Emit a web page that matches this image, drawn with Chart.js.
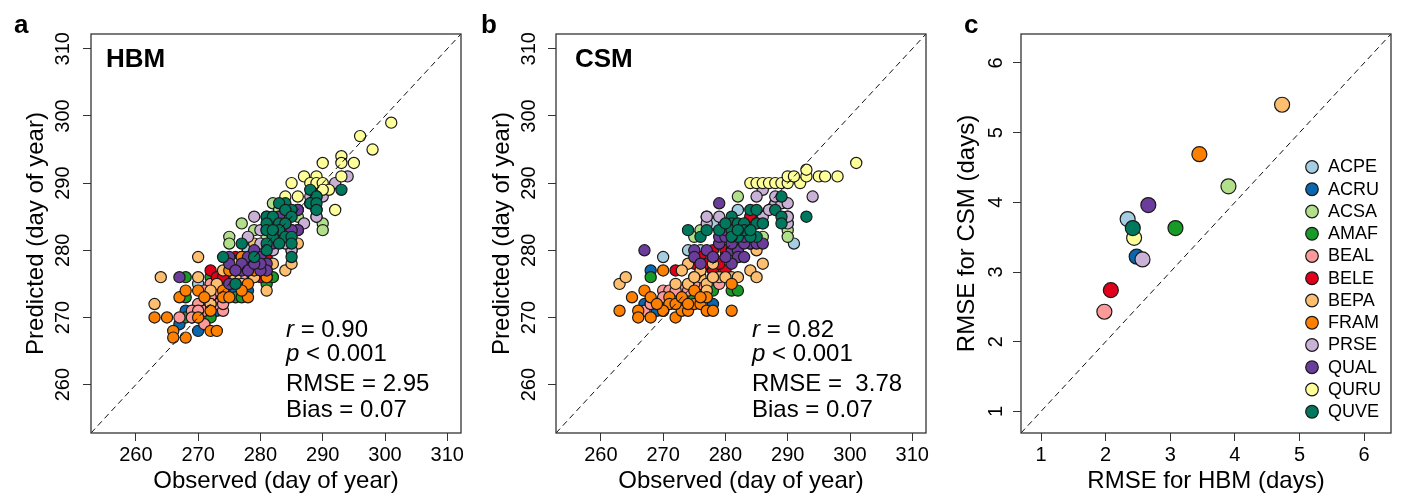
<!DOCTYPE html>
<html><head><meta charset="utf-8">
<script src="https://cdn.jsdelivr.net/npm/chart.js@4.4.1/dist/chart.umd.min.js"></script>
<style>
html,body{margin:0;padding:0;background:#fff;width:1402px;height:493px;overflow:hidden;font-family:"Liberation Sans",Arial,sans-serif;}
canvas{position:absolute;top:0;}
.t{position:absolute;white-space:pre;color:#000;line-height:1;}
.lbl{font-size:26px;font-weight:bold;}
.st{font-size:24px;}
</style></head><body>
<canvas id="ca" width="470" height="493" style="left:0px"></canvas>
<canvas id="cb" width="470" height="493" style="left:470px"></canvas>
<canvas id="cc" width="462" height="493" style="left:940px"></canvas>
<div class="t lbl" style="left:14px;top:11px">a</div>
<div class="t lbl" style="left:481px;top:11px">b</div>
<div class="t lbl" style="left:964px;top:11px">c</div>
<div class="t lbl" style="left:106px;top:45px">HBM</div>
<div class="t lbl" style="left:575px;top:45px">CSM</div>
<div class="t st" style="left:286px;top:317px"><i>r</i> = 0.90</div>
<div class="t st" style="left:286px;top:341px"><i>p</i> &lt; 0.001</div>
<div class="t st" style="left:286px;top:371px">RMSE = 2.95</div>
<div class="t st" style="left:286px;top:397px">Bias = 0.07</div>
<div class="t st" style="left:752px;top:317px"><i>r</i> = 0.82</div>
<div class="t st" style="left:752px;top:341px"><i>p</i> &lt; 0.001</div>
<div class="t st" style="left:752px;top:371px">RMSE =  3.78</div>
<div class="t st" style="left:752px;top:397px">Bias = 0.07</div>
<script>
// ---------- data ----------
const species = ['ACPE','ACRU','ACSA','AMAF','BEAL','BELE','BEPA','FRAM','PRSE','QUAL','QURU','QUVE'];
const colors  = ['#a6cee3','#0a66ad','#b2df8a','#179b26','#fb9a99','#e1001b','#fdbf6f','#ff7f00','#cab2d6','#6a3d9a','#ffff99','#00785e'];
const doyTicks = [260,270,280,290,300,310];
const rmseTicks = [1,2,3,4,5,6];

// panel a: HBM [observed, predicted]
const hbm_ACPE = [[270,275],[278,280],[276,274],[279,279],[277,276],[275,276],[280,280],[272,273]];
const hbm_ACRU = [[267,269],[268,271],[270,268],[270,270],[273,271],[278,274],[277,275],[272,272],[276,274],[269,270]];
const hbm_ACSA = [[282,287],[277,284],[275,282],[275,281],[290,284],[290,283],[283,286],[288,287],[279,283],[286,285],[281,282],[289,285]];
const hbm_AMAF = [[268,276],[268,273],[268,270],[272,270],[276,273],[281,275],[282,276],[281,276],[272,276],[277,273],[274,274],[278,278],[270,271],[279,276],[276,275]];
const hbm_BEAL = [[271,269],[270,272],[272,275],[273,272],[274,271],[269,271],[271,271],[267,270],[273,274],[276,276],[272,273],[274,272],[271,274],[275,275],[270,271],[277,276],[272,272],[269,270]];
const hbm_BELE = [[272,277],[273,276],[274,276],[276,279],[281,279],[277,278],[280,278],[278,279],[275,277],[279,277],[277,279],[276,277],[280,276]];
const hbm_BEPA = [[263,272],[264,276],[270,279],[270,276],[273,275],[272,272],[275,278],[279,276],[281,285],[281,274],[282,278],[284,277],[285,278],[286,281],[277,279],[281,276],[278,278],[276,276],[272,274],[274,277],[285,280],[279,281],[276,278],[277,275]];
const hbm_FRAM = [[263,270],[265,270],[266,268],[266,267],[268,267],[267,273],[268,274],[270,274],[271,273],[272,271],[272,268],[273,268],[274,274],[275,277],[277,279],[278,275],[278,273],[277,274],[281,277],[276,277],[281,276],[279,277],[274,273],[276,275],[270,270],[275,273],[278,277]];
const hbm_PRSE = [[294,291],[290,289],[290,288],[289,286],[289,285],[286,286],[287,284],[286,283],[279,285],[278,282],[280,281],[285,280],[284,281],[282,280],[283,285],[288,288],[285,283],[280,283],[292,290]];
const hbm_QUAL = [[267,276],[275,279],[278,279],[279,280],[280,279],[281,278],[281,277],[280,277],[277,277],[275,275],[282,281],[283,282],[286,283],[281,283],[283,283],[285,283],[283,285],[286,286],[280,278],[277,278],[278,277],[275,278],[276,277],[282,284],[284,284],[279,278],[282,282]];
const hbm_QURU = [[301,299],[296,297],[298,295],[293,294],[293,293],[295,293],[290,293],[293,291],[287,291],[289,291],[285,290],[288,290],[289,290],[290,290],[291,289],[290,289],[284,288],[286,288],[292,286],[284,286],[289,288]];
const hbm_QUVE = [[293,289],[288,289],[289,288],[288,287],[289,287],[289,286],[284,287],[285,286],[283,287],[284,286],[281,285],[282,285],[285,285],[281,284],[283,284],[284,284],[281,283],[283,283],[282,282],[284,282],[285,282],[281,281],[283,281],[285,281],[277,281],[281,280],[279,279],[285,279],[274,279],[276,275],[282,283]];

// panel b: CSM [observed, predicted]
const csm_ACPE = [[291,281],[282,286],[270,279],[274,280],[278,284],[281,283],[279,281],[276,280]];
const csm_ACRU = [[268,277],[267,272],[270,271],[278,272],[275,276],[269,271],[272,272],[276,273]];
const csm_ACSA = [[282,288],[277,285],[275,282],[290,285],[290,284],[290,283],[290,282],[286,284],[286,282],[284,285],[283,283],[276,283]];
const csm_AMAF = [[268,276],[281,274],[282,274],[280,276],[278,274],[268,272],[271,273],[275,275],[276,274],[278,276],[272,274],[275,273]];
const csm_BEAL = [[270,274],[267,271],[269,272],[270,272],[272,273],[273,274],[276,275],[277,274],[279,275],[273,273],[271,272],[268,272],[274,274],[275,275],[271,274],[272,274],[270,273]];
const csm_BELE = [[272,277],[276,279],[277,278],[278,280],[280,277],[282,281],[284,285],[276,277],[278,277],[280,280],[275,278],[279,278]];
const csm_BEPA = [[263,275],[264,276],[272,275],[274,278],[273,277],[274,275],[276,276],[277,275],[279,276],[278,278],[281,276],[282,276],[284,277],[285,276],[286,278],[285,280],[277,274],[276,277],[280,276],[275,276],[278,276]];
const csm_FRAM = [[263,271],[265,273],[266,271],[266,270],[267,274],[268,273],[268,270],[270,277],[271,273],[271,272],[272,270],[273,271],[274,271],[275,274],[275,272],[276,272],[277,271],[278,271],[277,273],[278,279],[281,275],[281,271],[272,272],[270,271],[273,273],[276,273],[269,272],[274,272]];
const csm_PRSE = [[286,289],[285,288],[288,287],[289,287],[290,287],[294,288],[286,285],[290,284],[277,284],[277,285],[279,285],[287,286],[284,281],[288,288],[283,283],[285,284],[281,282],[282,279],[290,285]];
const csm_QUAL = [[267,280],[279,287],[275,280],[275,279],[277,280],[279,281],[279,282],[280,282],[281,280],[282,280],[282,279],[281,278],[280,279],[283,279],[284,281],[285,281],[286,281],[282,283],[283,281],[280,283],[276,278],[278,279],[281,281],[283,282]];
const csm_QURU = [[284,290],[285,290],[286,290],[287,290],[288,290],[289,290],[290,290],[292,290],[290,291],[291,291],[293,291],[293,292],[295,291],[296,291],[298,291],[301,293]];
const csm_QUVE = [[274,283],[276,282],[277,283],[279,283],[281,285],[281,284],[281,283],[282,284],[283,284],[284,286],[285,286],[285,284],[285,282],[284,282],[282,282],[289,288],[288,286],[289,285],[289,284],[293,285],[281,282],[283,283],[282,283],[284,283],[280,284],[286,284]];

// panel c: RMSE per species (same order as species)
const rmseHBM = [2.34,2.48,3.90,3.08,1.98,2.08,4.73,3.45,2.57,2.66,2.44,2.42];
const rmseCSM = [3.76,3.22,4.23,3.63,2.43,2.74,5.40,4.69,3.18,3.96,3.49,3.63];

// ---------- chart ----------
Chart.defaults.font.family = '"Liberation Sans", Arial, sans-serif';
Chart.defaults.color = '#000';

const hbmSets = [hbm_ACPE,hbm_ACRU,hbm_ACSA,hbm_AMAF,hbm_BEAL,hbm_BELE,hbm_BEPA,hbm_FRAM,hbm_PRSE,hbm_QUAL,hbm_QURU,hbm_QUVE];
const csmSets = [csm_ACPE,csm_ACRU,csm_ACSA,csm_AMAF,csm_BEAL,csm_BELE,csm_BEPA,csm_FRAM,csm_PRSE,csm_QUAL,csm_QURU,csm_QUVE];
const rmseSets = species.map((s,i)=>[[rmseHBM[i], rmseCSM[i]]]);

const framePlugin = {
  id:'frame',
  afterDatasetsDraw(chart){
    const {ctx, chartArea:a, scales:{x,y}} = chart;
    ctx.save();
    ctx.beginPath(); ctx.rect(a.left,a.top,a.right-a.left,a.bottom-a.top); ctx.clip();
    ctx.setLineDash([6,4]); ctx.lineWidth=1; ctx.strokeStyle='#111';
    ctx.beginPath();
    ctx.moveTo(x.getPixelForValue(x.min), y.getPixelForValue(x.min));
    ctx.lineTo(x.getPixelForValue(x.max), y.getPixelForValue(x.max));
    ctx.stroke();
    ctx.restore();
    ctx.save();
    ctx.lineWidth=1.3; ctx.strokeStyle='#333';
    ctx.strokeRect(a.left,a.top,a.right-a.left,a.bottom-a.top);
    ctx.restore();
  }
};

const legendPlugin = {
  id:'spLegend',
  afterDraw(chart){
    if(!chart.options.plugins.spLegend || !chart.options.plugins.spLegend.show) return;
    const ctx = chart.ctx;
    ctx.save();
    species.forEach((s,i)=>{
      const cy = 167 + i*22.25;
      ctx.beginPath(); ctx.arc(372, cy, 6.3, 0, Math.PI*2);
      ctx.fillStyle = colors[i]; ctx.fill();
      ctx.lineWidth = 1.2; ctx.strokeStyle = '#1a1a1a'; ctx.stroke();
      ctx.fillStyle = '#000'; ctx.font = '18px "Liberation Sans", Arial, sans-serif';
      ctx.textAlign='left'; ctx.textBaseline='middle';
      ctx.fillText(s, 388, cy+0.5);
    });
    ctx.restore();
  }
};

function makeChart(id, cfg){
  const datasets = species.map((sp,i)=>({
    label: sp,
    data: cfg.sets[i].map(p=>({x:p[0], y:p[1]})),
    backgroundColor: colors[i],
    borderColor: '#1a1a1a',
    borderWidth: 1.2,
    pointRadius: cfg.r,
    pointHoverRadius: cfg.r,
    order: 100 - i
  }));
  const gridOpt = {display:true, drawOnChartArea:false, drawTicks:true, tickLength:8, color:'#333', tickWidth:1};
  return new Chart(document.getElementById(id), {
    type:'scatter',
    data:{datasets},
    options:{
      responsive:false, animation:false, devicePixelRatio:1, events:[],
      layout:{padding:{left:0, top:34, right:cfg.padR, bottom:0}},
      plugins:{legend:{display:false}, tooltip:{enabled:false}, spLegend:{show:!!cfg.legend}},
      scales:{
        x:{
          type:'linear', min:cfg.min, max:cfg.max, bounds:'data',
          afterBuildTicks: s => { s.ticks = cfg.ticks.map(v=>({value:v})); },
          afterFit: s => { s.height = 60; },
          grid:gridOpt, border:{display:false},
          ticks:{font:{size:20}, color:'#000', padding:2, maxRotation:0, minRotation:0, autoSkip:false},
          title:{display:true, text:cfg.xTitle, font:{size:24, lineHeight:1}, color:'#000', padding:{top:0, bottom:0}}
        },
        y:{
          type:'linear', min:cfg.min, max:cfg.max, bounds:'data',
          afterBuildTicks: s => { s.ticks = cfg.ticks.map(v=>({value:v})); },
          afterFit: s => { s.width = cfg.yW; },
          grid:gridOpt, border:{display:false},
          ticks:{font:{size:20}, color:'#000', padding:cfg.yPad, minRotation:90, maxRotation:90, crossAlign:'center', autoSkip:false},
          title:{display:true, text:cfg.yTitle, font:{size:24, lineHeight:1}, color:'#000', padding:{top:cfg.yTitlePad, bottom:0}}
        }
      }
    },
    plugins:[framePlugin, legendPlugin]
  });
}

makeChart('ca', {sets:hbmSets, r:5.6, min:252.8, max:312.2, ticks:doyTicks, padR:9, yW:91, yPad:3, yTitlePad:24.7,
  xTitle:'Observed (day of year)', yTitle:'Predicted (day of year)'});
makeChart('cb', {sets:csmSets, r:5.6, min:252.8, max:312.2, ticks:doyTicks, padR:14, yW:86, yPad:2.3, yTitlePad:20.2,
  xTitle:'Observed (day of year)', yTitle:'Predicted (day of year)'});
makeChart('cc', {sets:rmseSets, r:7.5, min:0.69, max:6.415, ticks:rmseTicks, padR:11, yW:81, yPad:10.7, yTitlePad:15.7,
  xTitle:'RMSE for HBM (days)', yTitle:'RMSE for CSM (days)', legend:true});
</script>
</body></html>
